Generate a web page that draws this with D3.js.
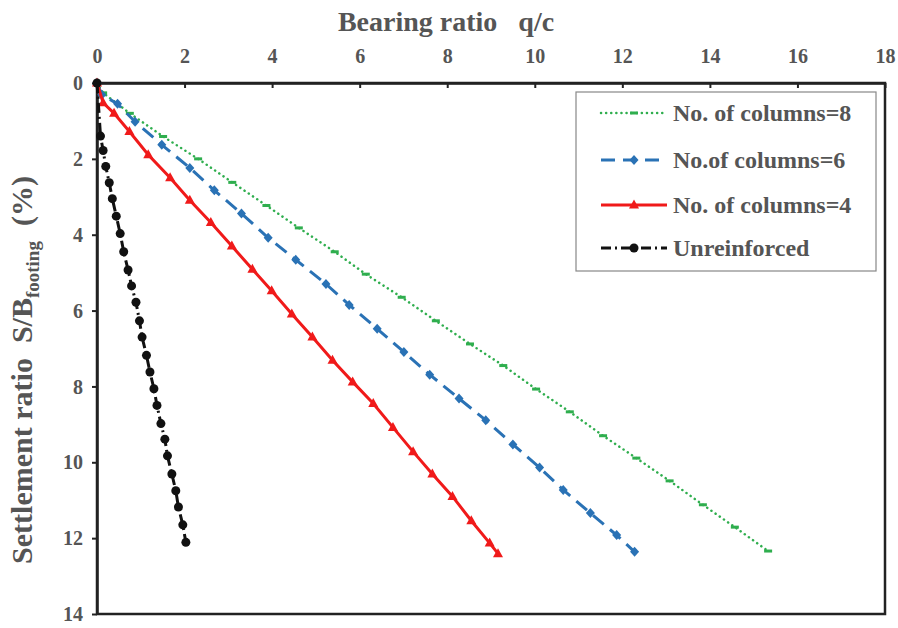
<!DOCTYPE html>
<html>
<head>
<meta charset="utf-8">
<script src="https://cdn.jsdelivr.net/npm/d3@7"></script>
<style>
  body { margin: 0; background: #fff; }
  svg text { font-family: "Liberation Serif", "Times New Roman", serif; font-weight: bold; fill: #555; }
</style>
</head>
<body>
<div id="chart"></div>
<script>
// Bearing ratio q/c (x) against settlement ratio S/B (%) (y)
var unreinforcedQ = [0, 0.08, 0.14, 0.20, 0.28, 0.35, 0.44, 0.53, 0.61, 0.71, 0.79, 0.89, 0.97, 1.03, 1.13, 1.21, 1.30, 1.37, 1.46, 1.55, 1.61, 1.71, 1.80, 1.86, 1.96, 2.03];
var unreinforcedS = [0, 1.40, 1.78, 2.20, 2.63, 3.05, 3.51, 3.97, 4.45, 4.93, 5.35, 5.78, 6.27, 6.70, 7.18, 7.62, 8.06, 8.50, 8.98, 9.39, 9.83, 10.31, 10.75, 11.18, 11.65, 12.11];

var col4Q = [0, 0.14, 0.39, 0.74, 1.17, 1.67, 2.12, 2.60, 3.08, 3.55, 3.99, 4.45, 4.92, 5.38, 5.84, 6.31, 6.76, 7.22, 7.66, 8.12, 8.55, 8.97, 9.16];
var col4S = [0, 0.52, 0.80, 1.28, 1.89, 2.50, 3.09, 3.68, 4.30, 4.91, 5.48, 6.09, 6.70, 7.31, 7.88, 8.45, 9.08, 9.72, 10.31, 10.90, 11.54, 12.13, 12.41];

var col6Q = [0, 0.11, 0.47, 0.87, 1.48, 2.12, 2.68, 3.30, 3.91, 4.54, 5.23, 5.76, 6.40, 7.01, 7.60, 8.27, 8.88, 9.50, 10.11, 10.65, 11.27, 11.87, 12.28];
var col6S = [0, 0.31, 0.55, 1.02, 1.63, 2.24, 2.83, 3.44, 4.08, 4.66, 5.30, 5.85, 6.48, 7.09, 7.69, 8.32, 8.89, 9.53, 10.14, 10.73, 11.34, 11.92, 12.36];

var col8Q = [0, 0.14, 0.75, 1.51, 2.31, 3.09, 3.87, 4.61, 5.43, 6.14, 6.96, 7.74, 8.52, 9.28, 10.03, 10.80, 11.56, 12.32, 13.08, 13.84, 14.57, 15.33];
var col8S = [0, 0.26, 0.80, 1.41, 2.00, 2.62, 3.23, 3.82, 4.45, 5.04, 5.65, 6.27, 6.88, 7.45, 8.07, 8.67, 9.30, 9.89, 10.49, 11.12, 11.71, 12.34];

var xTicks = [0, 2, 4, 6, 8, 10, 12, 14, 16, 18];
var yTicks = [0, 2, 4, 6, 8, 10, 12, 14];

var seriesNames = ["No. of columns=8", "No.of columns=6", "No. of columns=4", "Unreinforced"];

function zip(qs, ss) {
  return qs.map(function (q, i) { return {q: q, s: ss[i]}; });
}

var series = [
  {name: seriesNames[0], values: zip(col8Q, col8S), color: "#2fae4e", width: 2.5, dash: "0.1,5", cap: "round", marker: "dash"},
  {name: seriesNames[1], values: zip(col6Q, col6S), color: "#2a72b5", width: 3, dash: "14,8", cap: "butt", marker: "diamond"},
  {name: seriesNames[2], values: zip(col4Q, col4S), color: "#f01a1a", width: 3, dash: null, cap: "butt", marker: "triangle"},
  {name: seriesNames[3], values: zip(unreinforcedQ, unreinforcedS), color: "#111", width: 3, dash: "10,4,2,4", cap: "butt", marker: "circle"}
];

var width = 898,
  height = 628,
  margin = {top: 83, right: 13, bottom: 14, left: 97};

var svg = d3.select("#chart").append("svg")
  .attr("width", width)
  .attr("height", height);

var x = d3.scaleLinear().domain([0, 18]).range([margin.left, width - margin.right]);
var y = d3.scaleLinear().domain([0, 14]).range([margin.top, height - margin.bottom]);

// plot frame
svg.append("rect")
  .attr("x", x(0))
  .attr("y", y(0))
  .attr("width", x(18) - x(0))
  .attr("height", y(14) - y(0))
  .style("fill", "none")
  .style("stroke", "#222")
  .style("stroke-width", 2.5);

var xAxis = svg.append("g")
  .attr("transform", "translate(0," + y(0) + ")")
  .call(d3.axisTop(x).tickValues(xTicks).tickSizeInner(-5).tickSizeOuter(0).tickPadding(20));

var yAxis = svg.append("g")
  .attr("transform", "translate(" + x(0) + ",0)")
  .call(d3.axisLeft(y).tickValues(yTicks).tickSizeInner(5).tickSizeOuter(0).tickPadding(9));

[xAxis, yAxis].forEach(function (ax) {
  ax.select(".domain").style("stroke", "#222").style("stroke-width", 2.5);
  ax.selectAll(".tick line").style("stroke", "#222").style("stroke-width", 2);
  ax.selectAll(".tick text")
    .style("font-family", "Liberation Serif, serif")
    .style("font-weight", "bold")
    .style("font-size", "20px")
    .style("fill", "#555");
});
yAxis.selectAll(".tick text").attr("dy", "0.33em");

// axis titles
svg.append("text")
  .attr("x", 446)
  .attr("y", 31)
  .attr("text-anchor", "middle")
  .style("font-size", "28px")
  .style("white-space", "pre")
  .text("Bearing ratio   q/c");

var yTitle = svg.append("text")
  .attr("transform", "translate(32,370) rotate(-90)")
  .attr("text-anchor", "middle")
  .style("font-size", "30px")
  .style("white-space", "pre");
yTitle.append("tspan").text("Settlement ratio  S/B");
yTitle.append("tspan").attr("dy", 7).style("font-size", "19px").text("footing");
yTitle.append("tspan").attr("dy", -7).text("  (%)");

function drawMarker(sel, type, color) {
  if (type === "circle") {
    sel.append("circle").attr("r", 4.5).style("fill", color);
  } else if (type === "triangle") {
    sel.append("path").attr("d", "M0,-5.5L5,3.5L-5,3.5Z").style("fill", color);
  } else if (type === "diamond") {
    sel.append("path").attr("d", "M0,-5L4.5,0L0,5L-4.5,0Z").style("fill", color);
  } else {
    sel.append("rect").attr("x", -4).attr("y", -1.5).attr("width", 8).attr("height", 3).style("fill", color);
  }
}

var line = d3.line()
  .x(function (d) { return x(d.q); })
  .y(function (d) { return y(d.s); });

var plot = svg.append("g").attr("class", "series");

series.forEach(function (sr) {
  var g = plot.append("g");
  g.append("path")
    .datum(sr.values)
    .attr("d", line)
    .style("fill", "none")
    .style("stroke", sr.color)
    .style("stroke-width", sr.width)
    .style("stroke-linecap", sr.cap)
    .style("stroke-dasharray", sr.dash);
  g.selectAll(".pt")
    .data(sr.values)
    .enter()
    .append("g")
    .attr("class", "pt")
    .attr("transform", function (d) { return "translate(" + x(d.q) + "," + y(d.s) + ")"; })
    .each(function () { drawMarker(d3.select(this), sr.marker, sr.color); });
});

// legend
var legend = svg.append("g").attr("transform", "translate(576,92)");
legend.append("rect")
  .attr("width", 300)
  .attr("height", 179)
  .style("fill", "#fff")
  .style("stroke", "#888")
  .style("stroke-width", 1.2);

var legendRows = [21, 68, 113, 156];
series.forEach(function (sr, i) {
  var row = legend.append("g").attr("transform", "translate(0," + legendRows[i] + ")");
  row.append("line")
    .attr("x1", 25).attr("x2", 91)
    .style("stroke", sr.color)
    .style("stroke-width", sr.width)
    .style("stroke-linecap", sr.cap)
    .style("stroke-dasharray", sr.dash);
  drawMarker(row.append("g").attr("transform", "translate(58,0)"), sr.marker, sr.color);
  row.append("text")
    .attr("x", 97)
    .attr("y", 0)
    .attr("dy", "0.35em")
    .style("font-size", "24px")
    .text(sr.name);
});
</script>
</body>
</html>
